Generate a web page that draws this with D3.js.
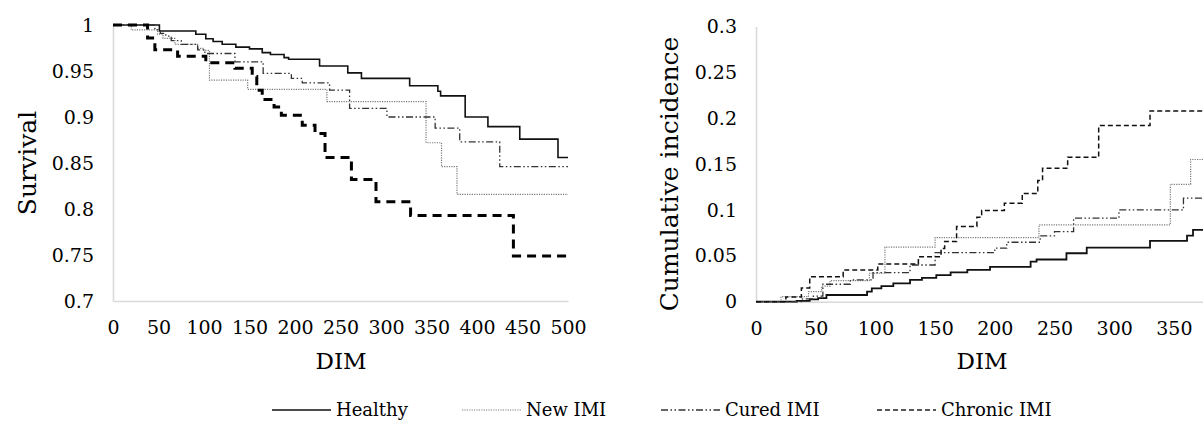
<!DOCTYPE html>
<html><head><meta charset="utf-8">
<script src="https://cdn.jsdelivr.net/npm/d3@7"></script>
<style>
body{margin:0;background:#fff}
svg{display:block}
text{font-family:"DejaVu Serif",serif;fill:#000}
</style>
</head><body>
<svg id="c" width="1203" height="421"></svg>
<script>
// ---------- data ----------
const seriesNames = ["Healthy", "New IMI", "Cured IMI", "Chronic IMI"];

const survivalTicksX = [0, 50, 100, 150, 200, 250, 300, 350, 400, 450, 500];
const survivalTicksY = [0.7, 0.75, 0.8, 0.85, 0.9, 0.95, 1];
const survivalTickLabelsY = ["0.7", "0.75", "0.8", "0.85", "0.9", "0.95", "1"];

const incidenceTicksX = [0, 50, 100, 150, 200, 250, 300, 350];
const incidenceTicksY = [0, 0.05, 0.1, 0.15, 0.2, 0.25, 0.3];
const incidenceTickLabelsY = ["0", "0.05", "0.1", "0.15", "0.2", "0.25", "0.3"];

// Survival (step after): [DIM, survival]
const survHealthy = [[0,1],[51,0.9935],[91,0.990],[102,0.985],[110,0.982],[120,0.979],[135,0.976],[150,0.974],[164,0.970],[173,0.968],[188,0.9645],[193,0.9627],[227,0.9554],[258,0.948],[273,0.942],[326,0.934],[357,0.928],[360,0.923],[387,0.900],[412,0.8895],[447,0.876],[489,0.856],[500,0.856]];
const survNewIMI = [[0,1],[20,0.9946],[49,0.990],[55,0.9855],[68,0.979],[93,0.9746],[100,0.9725],[106,0.940],[148,0.930],[235,0.9167],[344,0.872],[361,0.846],[378,0.816],[500,0.816]];
const survCuredIMI = [[0,1],[46,0.995],[52,0.991],[58,0.988],[64,0.983],[75,0.979],[93,0.973],[101,0.969],[134,0.960],[165,0.9475],[196,0.942],[208,0.937],[238,0.9293],[260,0.9094],[301,0.900],[354,0.888],[381,0.873],[425,0.846],[500,0.846]];
const survChronicIMI = [[0,1],[38,0.986],[46,0.973],[71,0.966],[102,0.959],[134,0.953],[153,0.944],[158,0.929],[164,0.919],[177,0.911],[185,0.902],[208,0.891],[222,0.882],[233,0.856],[262,0.832],[289,0.808],[327,0.793],[440,0.749],[500,0.749]];

// Cumulative incidence (step after): [DIM, incidence]
const incHealthy = [[0,0],[34,0.001],[45,0.0025],[52,0.004],[59,0.0073],[93,0.011],[97,0.0146],[105,0.017],[115,0.020],[129,0.0237],[139,0.026],[151,0.029],[163,0.032],[177,0.0346],[196,0.038],[230,0.0437],[235,0.046],[260,0.0528],[277,0.059],[330,0.0663],[361,0.072],[366,0.0783],[400,0.0783]];
const incNewIMI = [[0,0],[21,0.0055],[44,0.011],[55,0.017],[62,0.023],[95,0.031],[108,0.0595],[150,0.0699],[237,0.0837],[347,0.128],[364,0.155],[400,0.155]];
const incCuredIMI = [[0,0],[38,0.003],[48,0.006],[56,0.019],[79,0.0237],[98,0.0317],[129,0.040],[150,0.0535],[200,0.0583],[210,0.0648],[238,0.0717],[250,0.0764],[266,0.091],[304,0.100],[358,0.1129],[400,0.1129]];
const incChronicIMI = [[0,0],[25,0.005],[38,0.015],[45,0.0273],[73,0.0346],[102,0.0411],[136,0.049],[155,0.058],[158,0.0655],[168,0.0819],[185,0.092],[189,0.0993],[208,0.1074],[223,0.118],[236,0.132],[240,0.1455],[261,0.1575],[287,0.192],[330,0.208],[400,0.208]];

// ---------- styles ----------
const styleLeft = [
  {stroke:"#111", width:1.6, dash:null},
  {stroke:"#7a7a7a", width:1.2, dash:"1.2,1.2"},
  {stroke:"#333", width:1.3, dash:"7,2.5,1.5,2.5,1.5,2.5"},
  {stroke:"#000", width:3, dash:"9,6"}
];
const styleRight = [
  {stroke:"#111", width:1.8, dash:null},
  {stroke:"#7a7a7a", width:1.2, dash:"1.2,1.2"},
  {stroke:"#333", width:1.3, dash:"7,2.5,1.5,2.5,1.5,2.5"},
  {stroke:"#111", width:1.5, dash:"5,3"}
];
const styleLegend = [
  {stroke:"#111", width:1.6, dash:null},
  {stroke:"#7a7a7a", width:1.2, dash:"1.2,1.2"},
  {stroke:"#333", width:1.3, dash:"7,2.5,1.5,2.5,1.5,2.5"},
  {stroke:"#222", width:1.3, dash:"5,3"}
];

const svg = d3.select("#c");
const axisColor = "#d9d9d9";

function drawPanel(opts) {
  const x = d3.scaleLinear().domain(opts.xDomain).range(opts.xRange);
  const y = d3.scaleLinear().domain(opts.yDomain).range(opts.yRange);
  const g = svg.append("g");

  const ax = g.append("g").attr("transform", `translate(0,${opts.yRange[0]})`)
    .call(d3.axisBottom(x).tickValues(opts.ticksX).tickSize(0).tickSizeOuter(0).tickPadding(20).tickFormat(d3.format("d")));
  const ay = g.append("g").attr("transform", `translate(${opts.xRange[0]},0)`)
    .call(d3.axisLeft(y).tickValues(opts.ticksY).tickSize(0).tickSizeOuter(0).tickPadding(19)
      .tickFormat((d, i) => opts.labelsY[i]));
  [ax, ay].forEach(a => {
    a.select(".domain").attr("stroke", axisColor).attr("stroke-width", 1.6);
    a.selectAll("text").style("font-family", '"DejaVu Serif",serif').style("font-size", "19px").attr("fill", "#000");
  });

  const line = d3.line().x(d => x(d[0])).y(d => y(d[1])).curve(d3.curveStepAfter);
  opts.series.forEach((s, i) => {
    const st = opts.styles[i];
    g.append("path").datum(s).attr("d", line)
      .attr("fill", "none").attr("stroke", st.stroke).attr("stroke-width", st.width)
      .attr("stroke-dasharray", st.dash).attr("stroke-linejoin", "miter");
  });

  g.append("text").attr("x", opts.xTitleX).attr("y", 369).attr("text-anchor", "middle")
    .style("font-size", "23px").text("DIM");
  g.append("text").attr("transform", `translate(${opts.yTitleX},${opts.yTitleY}) rotate(-90)`)
    .attr("text-anchor", "middle").attr("dy", "0.35em").style("font-size", "25px").text(opts.yTitle);
}

drawPanel({
  xDomain: [0, 500], xRange: [113, 568],
  yDomain: [0.7, 1], yRange: [301, 25],
  ticksX: survivalTicksX, ticksY: survivalTicksY, labelsY: survivalTickLabelsY,
  series: [survHealthy, survNewIMI, survCuredIMI, survChronicIMI],
  styles: styleLeft, xTitleX: 341, yTitle: "Survival", yTitleX: 27, yTitleY: 163
});

drawPanel({
  xDomain: [0, 400], xRange: [756, 756 + 400 * 1.194],
  yDomain: [0, 0.3], yRange: [301.7, 26.5],
  ticksX: incidenceTicksX, ticksY: incidenceTicksY, labelsY: incidenceTickLabelsY,
  series: [incHealthy, incNewIMI, incCuredIMI, incChronicIMI],
  styles: styleRight, xTitleX: 982, yTitle: "Cumulative incidence", yTitleX: 669, yTitleY: 174
});

// ---------- legend ----------
const legendX = [272, 462, 661, 877];
const leg = svg.append("g");
seriesNames.forEach((name, i) => {
  const st = styleLegend[i];
  leg.append("line").attr("x1", legendX[i]).attr("x2", legendX[i] + 59).attr("y1", 410).attr("y2", 410)
    .attr("stroke", st.stroke).attr("stroke-width", st.width).attr("stroke-dasharray", st.dash);
  leg.append("text").attr("x", legendX[i] + 64).attr("y", 416).style("font-size", "18px")
    .attr("fill", "#333").text(name);
});
</script>
</body></html>
